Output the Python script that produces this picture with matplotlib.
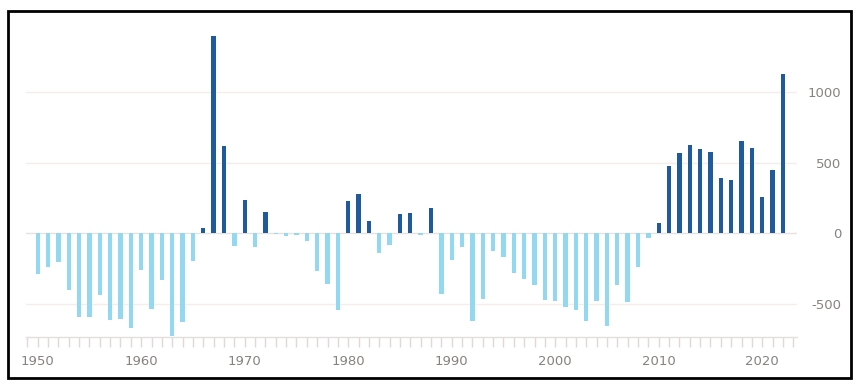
import matplotlib
matplotlib.use("Agg")
import matplotlib.pyplot as plt
from matplotlib.patches import Rectangle
from matplotlib.ticker import MultipleLocator

years = list(range(1950, 2023))
values = [
    -285, -235, -205, -400, -595, -590, -435, -615, -605, -670,   # 1950-1959
    -260, -535, -330, -730, -630, -195, 40, 1400, 620, -90,       # 1960-1969
    235, -95, 150, -3, -15, -8, -55, -270, -360, -540,            # 1970-1979
    230, 280, 85, -140, -80, 135, 145, -10, 180, -430,            # 1980-1989
    -190, -100, -620, -465, -125, -165, -280, -320, -365, -475,   # 1990-1999
    -480, -520, -545, -620, -480, -660, -365, -485, -235, -30,    # 2000-2009
    75, 480, 570, 630, 600, 580, 395, 380, 655, 605,              # 2010-2019
    255, 450, 1130,                                               # 2020-2022
]
ytick_vals = [-500, 0, 500, 1000]
xtick_vals = [1950, 1960, 1970, 1980, 1990, 2000, 2010, 2020]

dark_blue = "#1f5a9c"
light_blue = "#92d8f0"
text_gray = "#86827e"

plt.rcParams['font.family'] = ['DejaVu Sans']

fig = plt.figure(figsize=(8.58, 3.85), dpi=100)
ax = fig.add_axes([26/858, 1 - 337/385, (797 - 26)/858, (337 - 30)/385])

colors = [dark_blue if v >= 0 else light_blue for v in values]
ax.bar(years, values, width=0.42, color=colors, zorder=3)

ax.set_xlim(1948.87, 2023.36)
ax.set_ylim(-735, 1443)

for yv in ytick_vals:
    ax.axhline(yv, color="#e6e3df" if yv == 0 else "#f3eee8", lw=1.0, zorder=1)

for s in ["top", "right", "left"]:
    ax.spines[s].set_visible(False)
ax.spines["bottom"].set_color("#e3e0dc")
ax.spines["bottom"].set_linewidth(1.0)

ax.xaxis.set_minor_locator(MultipleLocator(1))
ax.set_xticks(xtick_vals)
ax.set_xticklabels([str(x) for x in xtick_vals])
ax.tick_params(axis="x", which="both", length=7, width=1, color="#dedad6",
               labelsize=9.5, labelcolor=text_gray, pad=6)

ax.yaxis.tick_right()
ax.set_yticks(ytick_vals)
ax.set_yticklabels([str(v) for v in ytick_vals])
ax.tick_params(axis="y", length=0, labelsize=9.5, labelcolor=text_gray, pad=32)
for lab in ax.get_yticklabels():
    lab.set_horizontalalignment("right")

fig.patches.append(Rectangle((8/858, 1 - 378/385), (851 - 8)/858, (378 - 11)/385,
                             transform=fig.transFigure, fill=False,
                             edgecolor="black", lw=2, zorder=10))

fig.savefig("out.png", dpi=100)
